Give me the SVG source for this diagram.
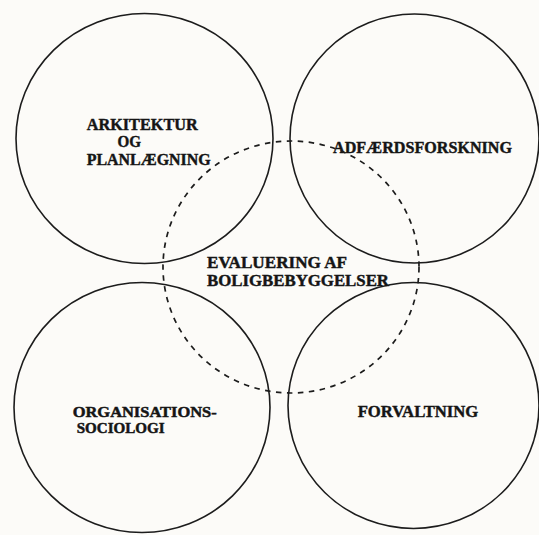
<svg xmlns="http://www.w3.org/2000/svg" width="539" height="535" viewBox="0 0 539 535">
  <style>
    .ring { fill: none; stroke: #1c1c1c; stroke-width: 1.6; }
    .dash { fill: none; stroke: #1c1c1c; stroke-width: 1.7; stroke-dasharray: 5.5 5.5; }
    .lbl { font-family: "Liberation Serif", "Times New Roman", serif; font-weight: bold; font-size: 17px; fill: #151515; stroke: #151515; stroke-width: 0.45; }
    .sm { font-size: 15.5px; stroke-width: 0.5; }
  </style>
  <rect x="0" y="0" width="539" height="535" fill="#fcfbf8"/>
  <g id="connectors"/>
  <g id="node-arkitektur">
    <ellipse class="ring" cx="144.5" cy="138.5" rx="128.5" ry="125"/>
    <text class="lbl" x="86.7" y="129.5" textLength="111" lengthAdjust="spacingAndGlyphs">ARKITEKTUR</text>
    <text class="lbl" x="117.5" y="147" textLength="23.5" lengthAdjust="spacingAndGlyphs">OG</text>
    <text class="lbl" x="86.7" y="165" textLength="124" lengthAdjust="spacingAndGlyphs">PLANLÆGNING</text>
  </g>
  <g id="node-adfaerdsforskning">
    <ellipse class="ring" cx="414.5" cy="138.5" rx="124.5" ry="124.5"/>
    <text class="lbl" x="333" y="153" textLength="179" lengthAdjust="spacingAndGlyphs">ADFÆRDSFORSKNING</text>
  </g>
  <g id="node-organisationssociologi">
    <ellipse class="ring" cx="142" cy="407.5" rx="128" ry="125"/>
    <text class="lbl sm" x="72.7" y="416.5" textLength="144" lengthAdjust="spacingAndGlyphs">ORGANISATIONS-</text>
    <text class="lbl sm" x="76.7" y="433" textLength="88" lengthAdjust="spacingAndGlyphs">SOCIOLOGI</text>
  </g>
  <g id="node-forvaltning">
    <ellipse class="ring" cx="413.5" cy="405.5" rx="125.5" ry="123"/>
    <text class="lbl" x="357.7" y="416.5" textLength="120.6" lengthAdjust="spacingAndGlyphs">FORVALTNING</text>
  </g>
  <g id="node-evaluering">
    <ellipse class="dash" cx="291" cy="267" rx="128" ry="126"/>
    <text class="lbl" x="207" y="268" textLength="140" lengthAdjust="spacingAndGlyphs">EVALUERING AF</text>
    <text class="lbl" x="207" y="286" textLength="182" lengthAdjust="spacingAndGlyphs">BOLIGBEBYGGELSER</text>
  </g>
</svg>
